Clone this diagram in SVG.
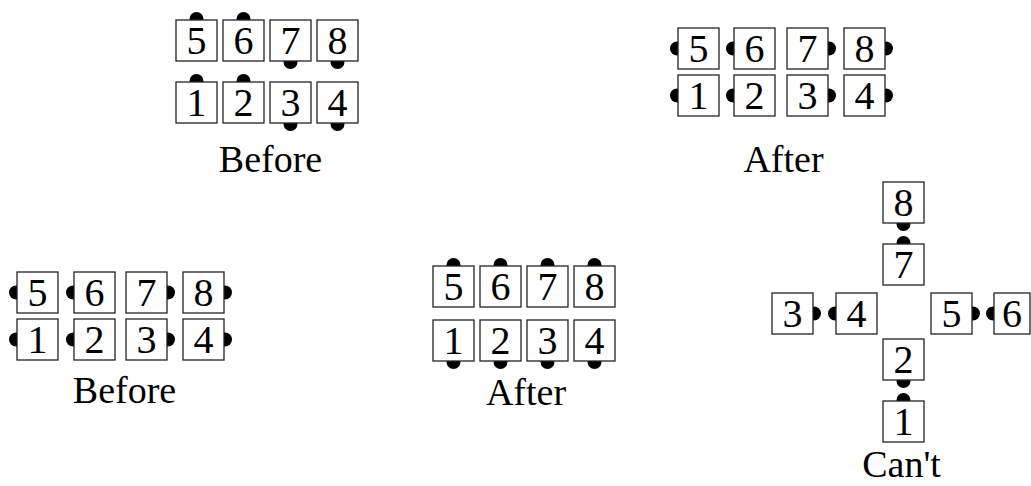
<svg xmlns="http://www.w3.org/2000/svg" width="1031" height="486" viewBox="0 0 1031 486">
<style>
.b{fill:#fff;stroke:#222;stroke-width:1.3}
.d{fill:#000}
.t{font-family:"Liberation Serif","Times New Roman",serif;font-size:40px;fill:#000;text-anchor:middle}
.l{font-family:"Liberation Serif","Times New Roman",serif;font-size:38px;fill:#000;text-anchor:middle}
</style>
<rect width="1031" height="486" fill="#fff"/>
<g id="connectors"></g>
<!-- Group A: Before (top-left) -->
<g id="A5"><circle class="d" cx="196.5" cy="19" r="7"/><rect class="b" x="176" y="20" width="41" height="41"/><text class="t" x="196.5" y="54">5</text></g>
<g id="A6"><circle class="d" cx="243.5" cy="19" r="7"/><rect class="b" x="223" y="20" width="41" height="41"/><text class="t" x="243.5" y="54">6</text></g>
<g id="A7"><circle class="d" cx="290.5" cy="62" r="7"/><rect class="b" x="270" y="20" width="41" height="41"/><text class="t" x="290.5" y="54">7</text></g>
<g id="A8"><circle class="d" cx="337.5" cy="62" r="7"/><rect class="b" x="317" y="20" width="41" height="41"/><text class="t" x="337.5" y="54">8</text></g>
<g id="A1"><circle class="d" cx="196.5" cy="81" r="7"/><rect class="b" x="176" y="82" width="41" height="41"/><text class="t" x="196.5" y="116">1</text></g>
<g id="A2"><circle class="d" cx="243.5" cy="81" r="7"/><rect class="b" x="223" y="82" width="41" height="41"/><text class="t" x="243.5" y="116">2</text></g>
<g id="A3"><circle class="d" cx="290.5" cy="124" r="7"/><rect class="b" x="270" y="82" width="41" height="41"/><text class="t" x="290.5" y="116">3</text></g>
<g id="A4"><circle class="d" cx="337.5" cy="124" r="7"/><rect class="b" x="317" y="82" width="41" height="41"/><text class="t" x="337.5" y="116">4</text></g>
<text id="A-label" class="l" x="270.5" y="172">Before</text>
<!-- Group B: After (top-right) -->
<g id="B5"><circle class="d" cx="677" cy="48.5" r="7"/><rect class="b" x="678" y="28" width="41" height="41"/><text class="t" x="698.5" y="62">5</text></g>
<g id="B6"><circle class="d" cx="733" cy="48.5" r="7"/><rect class="b" x="734" y="28" width="41" height="41"/><text class="t" x="754.5" y="62">6</text></g>
<g id="B7"><circle class="d" cx="829" cy="48.5" r="7"/><rect class="b" x="787" y="28" width="41" height="41"/><text class="t" x="807.5" y="62">7</text></g>
<g id="B8"><circle class="d" cx="886" cy="48.5" r="7"/><rect class="b" x="844" y="28" width="41" height="41"/><text class="t" x="864.5" y="62">8</text></g>
<g id="B1"><circle class="d" cx="677" cy="95.5" r="7"/><rect class="b" x="678" y="75" width="41" height="41"/><text class="t" x="698.5" y="109">1</text></g>
<g id="B2"><circle class="d" cx="733" cy="95.5" r="7"/><rect class="b" x="734" y="75" width="41" height="41"/><text class="t" x="754.5" y="109">2</text></g>
<g id="B3"><circle class="d" cx="829" cy="95.5" r="7"/><rect class="b" x="787" y="75" width="41" height="41"/><text class="t" x="807.5" y="109">3</text></g>
<g id="B4"><circle class="d" cx="886" cy="95.5" r="7"/><rect class="b" x="844" y="75" width="41" height="41"/><text class="t" x="864.5" y="109">4</text></g>
<text id="B-label" class="l" x="783.5" y="172">After</text>
<!-- Group C: Before (bottom-left) -->
<g id="C5"><circle class="d" cx="16" cy="292.5" r="7"/><rect class="b" x="17" y="272" width="41" height="41"/><text class="t" x="37.5" y="306">5</text></g>
<g id="C6"><circle class="d" cx="73" cy="292.5" r="7"/><rect class="b" x="74" y="272" width="41" height="41"/><text class="t" x="94.5" y="306">6</text></g>
<g id="C7"><circle class="d" cx="168" cy="292.5" r="7"/><rect class="b" x="126" y="272" width="41" height="41"/><text class="t" x="146.5" y="306">7</text></g>
<g id="C8"><circle class="d" cx="225" cy="292.5" r="7"/><rect class="b" x="183" y="272" width="41" height="41"/><text class="t" x="203.5" y="306">8</text></g>
<g id="C1"><circle class="d" cx="16" cy="339.5" r="7"/><rect class="b" x="17" y="319" width="41" height="41"/><text class="t" x="37.5" y="353">1</text></g>
<g id="C2"><circle class="d" cx="73" cy="339.5" r="7"/><rect class="b" x="74" y="319" width="41" height="41"/><text class="t" x="94.5" y="353">2</text></g>
<g id="C3"><circle class="d" cx="168" cy="339.5" r="7"/><rect class="b" x="126" y="319" width="41" height="41"/><text class="t" x="146.5" y="353">3</text></g>
<g id="C4"><circle class="d" cx="225" cy="339.5" r="7"/><rect class="b" x="183" y="319" width="41" height="41"/><text class="t" x="203.5" y="353">4</text></g>
<text id="C-label" class="l" x="124.5" y="403">Before</text>
<!-- Group D: After (bottom-middle) -->
<g id="D5"><circle class="d" cx="453.5" cy="265" r="7"/><rect class="b" x="433" y="266" width="41" height="41"/><text class="t" x="453.5" y="300">5</text></g>
<g id="D6"><circle class="d" cx="500.5" cy="265" r="7"/><rect class="b" x="480" y="266" width="41" height="41"/><text class="t" x="500.5" y="300">6</text></g>
<g id="D7"><circle class="d" cx="547.5" cy="265" r="7"/><rect class="b" x="527" y="266" width="41" height="41"/><text class="t" x="547.5" y="300">7</text></g>
<g id="D8"><circle class="d" cx="594.5" cy="265" r="7"/><rect class="b" x="574" y="266" width="41" height="41"/><text class="t" x="594.5" y="300">8</text></g>
<g id="D1"><circle class="d" cx="453.5" cy="362" r="7"/><rect class="b" x="433" y="320" width="41" height="41"/><text class="t" x="453.5" y="354">1</text></g>
<g id="D2"><circle class="d" cx="500.5" cy="362" r="7"/><rect class="b" x="480" y="320" width="41" height="41"/><text class="t" x="500.5" y="354">2</text></g>
<g id="D3"><circle class="d" cx="547.5" cy="362" r="7"/><rect class="b" x="527" y="320" width="41" height="41"/><text class="t" x="547.5" y="354">3</text></g>
<g id="D4"><circle class="d" cx="594.5" cy="362" r="7"/><rect class="b" x="574" y="320" width="41" height="41"/><text class="t" x="594.5" y="354">4</text></g>
<text id="D-label" class="l" x="526" y="405">After</text>
<!-- Group E: Can't -->
<g id="E8"><circle class="d" cx="903.5" cy="224" r="7"/><rect class="b" x="883" y="182" width="41" height="41"/><text class="t" x="903.5" y="216">8</text></g>
<g id="E7"><circle class="d" cx="903.5" cy="243" r="7"/><rect class="b" x="883" y="244" width="41" height="41"/><text class="t" x="903.5" y="278">7</text></g>
<g id="E3"><circle class="d" cx="814" cy="313.5" r="7"/><rect class="b" x="772" y="293" width="41" height="41"/><text class="t" x="792.5" y="327">3</text></g>
<g id="E4"><circle class="d" cx="835" cy="313.5" r="7"/><rect class="b" x="836" y="293" width="41" height="41"/><text class="t" x="856.5" y="327">4</text></g>
<g id="E5"><circle class="d" cx="973" cy="313.5" r="7"/><rect class="b" x="931" y="293" width="41" height="41"/><text class="t" x="951.5" y="327">5</text></g>
<g id="E6"><circle class="d" cx="993" cy="313.5" r="7"/><rect class="b" x="994" y="293" width="36" height="41"/><text class="t" x="1012" y="327">6</text></g>
<g id="E2"><circle class="d" cx="903.5" cy="381" r="7"/><rect class="b" x="883" y="339" width="41" height="41"/><text class="t" x="903.5" y="373">2</text></g>
<g id="E1"><circle class="d" cx="903.5" cy="400" r="7"/><rect class="b" x="883" y="401" width="41" height="41"/><text class="t" x="903.5" y="435">1</text></g>
<text id="E-label" class="l" x="901.5" y="477">Can't</text>
</svg>
